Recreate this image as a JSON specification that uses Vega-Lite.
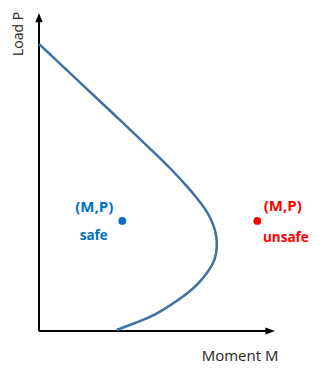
{
  "$schema": "https://vega.github.io/schema/vega-lite/v6.json",
  "width": 323,
  "height": 370,
  "padding": 0,
  "autosize": {"type": "none"},
  "background": "white",
  "config": {"view": {"stroke": null}},
  "datasets": {
    "curve": [
      {"i": 1, "M": 0, "P": 90.25},
      {"i": 2, "M": 17.37, "P": 78.14},
      {"i": 3, "M": 34.32, "P": 66.35},
      {"i": 4, "M": 51.27, "P": 54.4},
      {"i": 5, "M": 55.5, "P": 51.26},
      {"i": 6, "M": 61.86, "P": 46.23},
      {"i": 7, "M": 66.95, "P": 41.82},
      {"i": 8, "M": 70.34, "P": 38.52},
      {"i": 9, "M": 72.8, "P": 35.38},
      {"i": 10, "M": 74.7, "P": 31.76},
      {"i": 11, "M": 75.5, "P": 28.08},
      {"i": 12, "M": 75.2, "P": 24.43},
      {"i": 13, "M": 74.0, "P": 21.29},
      {"i": 14, "M": 71.1, "P": 18.14},
      {"i": 15, "M": 67.9, "P": 15.2},
      {"i": 16, "M": 63.9, "P": 12.4},
      {"i": 17, "M": 59.0, "P": 9.75},
      {"i": 18, "M": 52.67, "P": 6.6},
      {"i": 19, "M": 45.64, "P": 3.77},
      {"i": 20, "M": 38.56, "P": 1.95},
      {"i": 21, "M": 32.92, "P": 0.31}
    ],
    "axes": [
      {"axis": "M", "M": 0, "P": 0, "M2": 98, "P2": 0},
      {"axis": "P", "M": 0, "P": 0, "M2": 0, "P2": 98}
    ],
    "tipsM": [{"M": 100, "P": 0}],
    "tipsP": [{"M": 0, "P": 100}],
    "points": [
      {"state": "safe", "M": 35.3, "P": 34.6},
      {"state": "unsafe", "M": 92.5, "P": 34.6}
    ],
    "labels": [
      {"state": "safe", "text": "(M,P)", "M": 23.4, "P": 37.4},
      {"state": "safe", "text": "safe", "M": 23.2, "P": 28.6},
      {"state": "unsafe", "text": "(M,P)", "M": 103.3, "P": 37.8},
      {"state": "unsafe", "text": "unsafe", "M": 104.6, "P": 28.0}
    ],
    "titleM": [{"text": "Moment M", "M": 85.2, "P": -9.43}],
    "titleP": [{"text": "Load P", "M": -6.9, "P": 93.4}]
  },
  "encoding": {
    "x": {"field": "M", "type": "quantitative", "scale": {"domain": [-16.525, 120.339], "nice": false, "zero": false}, "axis": null},
    "y": {"field": "P", "type": "quantitative", "scale": {"domain": [-12.264, 104.088], "nice": false, "zero": false}, "axis": null}
  },
  "layer": [
    {
      "data": {"name": "axes"},
      "mark": {"type": "rule", "color": "#000000", "strokeWidth": 2},
      "encoding": {
        "x2": {"field": "M2"},
        "y2": {"field": "P2"}
      }
    },
    {
      "data": {"name": "tipsM"},
      "mark": {"type": "point", "filled": true, "color": "#000000", "opacity": 1, "size": 64, "shape": "M0,0L-2.4,-0.9L-2.4,0.9Z"},
      "encoding": {}
    },
    {
      "data": {"name": "tipsP"},
      "mark": {"type": "point", "filled": true, "color": "#000000", "opacity": 1, "size": 64, "shape": "M0,0L-0.9,2.3L0.9,2.3Z"},
      "encoding": {}
    },
    {
      "data": {"name": "curve"},
      "mark": {"type": "line", "color": "#3e70a3", "strokeWidth": 2.5, "interpolate": "basis"},
      "encoding": {
        "order": {"field": "i", "type": "quantitative"}
      }
    },
    {
      "data": {"name": "points"},
      "mark": {"type": "point", "filled": true, "opacity": 1, "size": 60},
      "encoding": {
        "color": {"field": "state", "type": "nominal", "scale": {"domain": ["safe", "unsafe"], "range": ["#0070c0", "#ff0000"]}, "legend": null}
      }
    },
    {
      "data": {"name": "labels"},
      "transform": [{"filter": "datum.text === '(M,P)'"}],
      "mark": {"type": "text", "font": "Open Sans", "fontWeight": "bold", "fontSize": 15, "align": "center", "baseline": "alphabetic"},
      "encoding": {
        "text": {"field": "text"},
        "color": {"field": "state", "type": "nominal", "scale": {"domain": ["safe", "unsafe"], "range": ["#0070c0", "#ff0000"]}, "legend": null}
      }
    },
    {
      "data": {"name": "labels"},
      "transform": [{"filter": "datum.text !== '(M,P)'"}],
      "mark": {"type": "text", "font": "Open Sans", "fontWeight": "bold", "fontSize": 13.5, "align": "center", "baseline": "alphabetic"},
      "encoding": {
        "text": {"field": "text"},
        "color": {"field": "state", "type": "nominal", "scale": {"domain": ["safe", "unsafe"], "range": ["#0070c0", "#ff0000"]}, "legend": null}
      }
    },
    {
      "data": {"name": "titleM"},
      "mark": {"type": "text", "font": "Open Sans", "fontSize": 15, "align": "center", "baseline": "alphabetic", "color": "#262626"},
      "encoding": {"text": {"field": "text"}}
    },
    {
      "data": {"name": "titleP"},
      "mark": {"type": "text", "font": "Open Sans", "fontSize": 14, "align": "center", "baseline": "alphabetic", "angle": 270, "color": "#262626"},
      "encoding": {"text": {"field": "text"}}
    }
  ]
}
